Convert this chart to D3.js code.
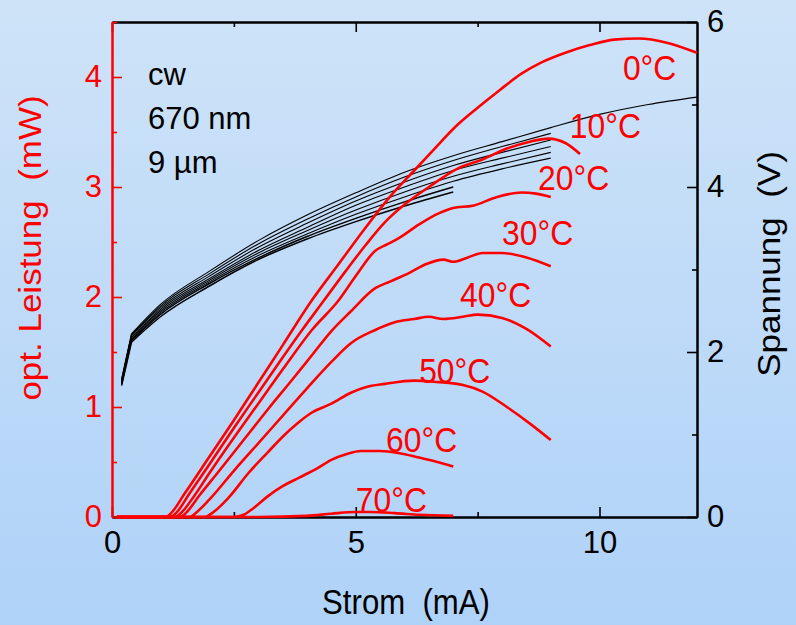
<!DOCTYPE html>
<html><head><meta charset="utf-8">
<script src="https://cdn.jsdelivr.net/npm/d3@7"></script>
<style>
html,body{margin:0;padding:0;overflow:hidden;}
text{font-family:"Liberation Sans",Arial,sans-serif;}
</style></head>
<body>
<script>
// ---------- data ----------
const tempLabels = ["0°C","10°C","20°C","30°C","40°C","50°C","60°C","70°C"];

// optical power (mW) vs current (mA)
const I0  = [0.1,1.1,1.2,1.5,2.0,2.5,3.0,3.5,4.1,4.6,5.2,5.7,6.2,6.6,7.05,7.5,7.95,8.4,8.8,9.3,9.8,10.3,10.8,11.4,12.0];
const P0  = [0,0,0.03,0.22,0.55,0.88,1.22,1.56,1.97,2.27,2.63,2.91,3.15,3.34,3.55,3.72,3.88,4.03,4.13,4.22,4.29,4.34,4.35,4.31,4.22];
const I10 = [0.1,1.2,1.3,1.6,2.0,2.5,3.0,3.5,3.9,4.35,4.8,5.2,5.6,6.0,6.5,7.1,7.6,8.1,8.55,8.95,9.3,9.6];
const P10 = [0,0,0.03,0.22,0.48,0.81,1.13,1.45,1.70,1.97,2.24,2.47,2.68,2.84,3.00,3.17,3.25,3.35,3.41,3.44,3.40,3.30];
const I20 = [0.1,1.3,1.4,1.7,2.0,2.5,3.0,3.5,4.1,4.65,5.0,5.4,5.65,5.9,6.3,6.7,7.0,7.4,7.9,8.4,8.7,9.0];
const P20 = [0,0,0.03,0.2,0.4,0.72,1.03,1.34,1.70,1.97,2.19,2.42,2.48,2.54,2.66,2.76,2.81,2.83,2.91,2.95,2.94,2.91];
const I30 = [0.1,1.4,1.5,1.8,2.2,2.7,3.2,3.7,4.1,4.5,4.9,5.4,5.7,6.1,6.45,6.8,7.0,7.3,7.6,8.0,8.5,9.0];
const P30 = [0,0,0.03,0.2,0.42,0.70,0.98,1.25,1.47,1.69,1.87,2.08,2.14,2.22,2.30,2.34,2.32,2.36,2.40,2.40,2.36,2.28];
const I40 = [0.1,1.6,1.7,2.0,2.5,3.0,3.5,4.0,4.5,4.9,5.4,5.8,6.2,6.5,6.8,7.2,7.5,8.0,8.5,9.0];
const P40 = [0,0,0.03,0.16,0.42,0.67,0.92,1.17,1.41,1.58,1.70,1.77,1.80,1.82,1.80,1.82,1.84,1.81,1.71,1.55];
const I50 = [0.1,1.9,2.0,2.4,2.8,3.2,3.5,3.8,4.1,4.5,4.9,5.2,5.6,6.2,6.6,7.2,7.6,8.1,8.6,9.0];
const P50 = [0,0,0.02,0.18,0.40,0.59,0.73,0.85,0.95,1.03,1.13,1.18,1.21,1.24,1.23,1.20,1.14,1.00,0.84,0.70];
const I60 = [0.1,2.5,2.7,2.9,3.2,3.5,3.85,4.2,4.5,4.8,5.1,5.5,5.9,6.3,6.6,7.0];
const P60 = [0,0,0.02,0.08,0.19,0.28,0.36,0.44,0.52,0.57,0.60,0.60,0.58,0.54,0.51,0.46];
const I70 = [0.1,3.0,4.0,4.5,5.0,5.3,5.8,6.3,7.0];
const P70 = [0,0,0.01,0.03,0.045,0.045,0.035,0.02,0.01];

// voltage (V) vs current (mA)
const vI  = [0.2,0.4,1,2,3,4,5,6,7,8,9,10,11,12];
const V0  = [1.68,2.22,2.58,2.98,3.35,3.66,3.93,4.18,4.38,4.55,4.72,4.88,5.00,5.09];
const V10 = [1.67,2.21,2.56,2.95,3.31,3.61,3.88,4.12,4.32,4.49,4.65];
const V20 = [1.66,2.20,2.54,2.92,3.27,3.56,3.83,4.06,4.26,4.42,4.57];
const V30 = [1.65,2.18,2.52,2.89,3.23,3.51,3.78,4.00,4.20,4.35,4.49];
const V40 = [1.64,2.17,2.50,2.87,3.20,3.47,3.72,3.94,4.13,4.28,4.42];
const V50 = [1.63,2.15,2.48,2.85,3.17,3.43,3.67,3.88,4.07,4.22,4.35];
const V60 = [1.62,2.14,2.46,2.83,3.14,3.40,3.62,3.82,4.00];
const V70 = [1.60,2.12,2.43,2.80,3.12,3.37,3.58,3.77,3.94];

// label anchors (data units: current, power)
const labelI = [10.48,9.39,8.74,8.0,7.14,6.30,5.62,5.0];
const labelP = [3.97,3.45,2.97,2.47,1.91,1.22,0.59,0.045];

const xTicks = [0,5,10], xMinor = [2.5,7.5];
const pTicks = [0,1,2,3,4], pMinor = [0.5,1.5,2.5,3.5,4.5];
const vTicks = [0,2,4,6], vMinor = [1,3,5];
const notes = ["cw","670 nm","9 µm"];

// ---------- drawing ----------
const W=796,H=625;
const L=112,R=697,T=22,B=517;
const RED="#ff0000";
const svg=d3.select("body").append("svg").attr("width",W).attr("height",H);
const grad=svg.append("defs").append("linearGradient").attr("id","bg").attr("x1",0).attr("y1",0).attr("x2",0).attr("y2",1);
grad.append("stop").attr("offset","0%").attr("stop-color","#cee3f8");
grad.append("stop").attr("offset","100%").attr("stop-color","#afd2f8");
svg.append("rect").attr("width",W).attr("height",H).attr("fill","url(#bg)");

const x=d3.scaleLinear().domain([0,12]).range([L,R]);
const yP=d3.scaleLinear().domain([0,4.5]).range([B,T]);
const yV=d3.scaleLinear().domain([0,6]).range([B,T]);

function styleAxis(g,color){
  g.select(".domain").attr("stroke",color).attr("stroke-width",2);
  g.selectAll(".tick line").attr("stroke",color).attr("stroke-width",1.6);
  g.selectAll(".tick text").attr("fill",color).attr("font-size",31).attr("font-family","Liberation Sans, Arial, sans-serif");
}
// top
let g=svg.append("g").attr("transform",`translate(0,${T})`).call(d3.axisTop(x).tickValues(xTicks).tickSizeInner(-10).tickSizeOuter(0).tickFormat(""));
styleAxis(g,"#000");
g=svg.append("g").attr("transform",`translate(0,${T})`).call(d3.axisTop(x).tickValues(xMinor).tickSizeInner(-5).tickSizeOuter(0).tickFormat(""));
styleAxis(g,"#000");
// bottom
g=svg.append("g").attr("transform",`translate(0,${B})`).call(d3.axisBottom(x).tickValues(xTicks).tickSizeInner(-10).tickSizeOuter(0).tickPadding(14).tickFormat(d3.format("d")));
styleAxis(g,"#000");
g=svg.append("g").attr("transform",`translate(0,${B})`).call(d3.axisBottom(x).tickValues(xMinor).tickSizeInner(-5).tickSizeOuter(0).tickFormat(""));
styleAxis(g,"#000");
// right
g=svg.append("g").attr("transform",`translate(${R},0)`).call(d3.axisRight(yV).tickValues(vTicks).tickSizeInner(-10).tickSizeOuter(0).tickPadding(10).tickFormat(d3.format("d")));
styleAxis(g,"#000");
g=svg.append("g").attr("transform",`translate(${R},0)`).call(d3.axisRight(yV).tickValues(vMinor).tickSizeInner(-5).tickSizeOuter(0).tickFormat(""));
styleAxis(g,"#000");
// left (red)
g=svg.append("g").attr("transform",`translate(${L},0)`).call(d3.axisLeft(yP).tickValues(pTicks).tickSizeInner(-10).tickSizeOuter(0).tickPadding(10).tickFormat(d3.format("d")));
styleAxis(g,RED);
g=svg.append("g").attr("transform",`translate(${L},0)`).call(d3.axisLeft(yP).tickValues(pMinor).tickSizeInner(-5).tickSizeOuter(0).tickFormat(""));
styleAxis(g,RED);

// voltage curves: straight first segment (sharp kink), smooth afterwards
const vSeries=[V0,V10,V20,V30,V40,V50,V60,V70];
const vLineS=d3.line().x(d=>x(d[0])).y(d=>yV(d[1])).curve(d3.curveMonotoneX);
const vLineL=d3.line().x(d=>x(d[0])).y(d=>yV(d[1]));
vSeries.forEach((vs,i)=>{
  const pts=vs.map((v,k)=>[vI[k],v]);
  const sw=i>=6?1.5:1.1;
  svg.append("path").attr("d",vLineL(pts.slice(0,2))).attr("fill","none").attr("stroke","#000").attr("stroke-width",sw).attr("stroke-linecap","round");
  svg.append("path").attr("d",vLineS(pts.slice(1))).attr("fill","none").attr("stroke","#000").attr("stroke-width",sw);
});

// power curves
const pI=[I0,I10,I20,I30,I40,I50,I60,I70];
const pP=[P0,P10,P20,P30,P40,P50,P60,P70];
const pLine=d3.line().x(d=>x(d[0])).y(d=>yP(d[1])).curve(d3.curveMonotoneX);
pI.forEach((is,i)=>{
  const pts=is.map((c,k)=>[c,pP[i][k]]);
  svg.append("path").attr("d",pLine(pts)).attr("fill","none").attr("stroke",RED).attr("stroke-width",2.6).attr("stroke-linejoin","round");
});

// temperature labels
tempLabels.forEach((t,i)=>{
  svg.append("text").attr("transform",`translate(${x(labelI[i])},${yP(labelP[i])}) scale(0.91,1)`)
    .attr("font-size",35).attr("fill",RED).text(t);
});

// notes
notes.forEach((n,i)=>{
  svg.append("text").attr("x",148).attr("y",85+i*44).attr("font-size",31).attr("fill","#000").text(n);
});

// axis titles
svg.append("text").attr("transform",`translate(406,614) scale(0.89,1)`).attr("text-anchor","middle")
  .attr("font-size",35).attr("fill","#000").style("white-space","pre").text("Strom  (mA)");
svg.append("text").attr("transform",`translate(41,248) rotate(-90) scale(1,0.9)`).attr("text-anchor","middle")
  .attr("font-size",35).attr("fill",RED).style("white-space","pre").text("opt. Leistung  (mW)");
svg.append("text").attr("transform",`translate(780,264) rotate(-90) scale(1,0.9)`).attr("text-anchor","middle")
  .attr("font-size",35).attr("fill","#000").style("white-space","pre").text("Spannung  (V)");
</script>
</body></html>
